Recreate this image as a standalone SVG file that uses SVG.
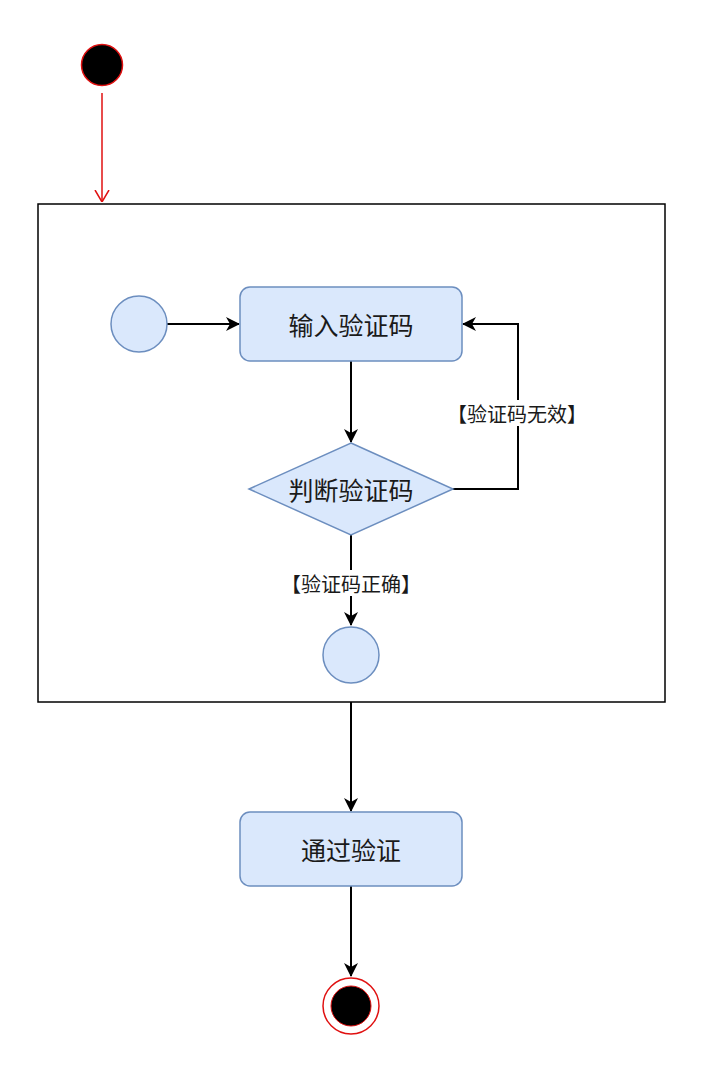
<svg xmlns="http://www.w3.org/2000/svg" width="703" height="1074" viewBox="0 0 703 1074">
<style>
.node{fill:#dae8fc;stroke:#6c8ebf;stroke-width:1.5}
.lbl{font-family:"Noto Sans CJK SC","Liberation Sans",sans-serif;font-size:25px;fill:#1a1a1a;text-anchor:middle;dominant-baseline:central}
.elbl{font-family:"Noto Sans CJK SC","Liberation Sans",sans-serif;font-size:20px;fill:#1a1a1a;text-anchor:middle;dominant-baseline:central}
.edge{fill:none;stroke:#000;stroke-width:2}
</style>
<defs>
<marker id="ah" viewBox="0 0 14 14" refX="13" refY="7" markerWidth="14" markerHeight="14" markerUnits="userSpaceOnUse" orient="auto">
<path d="M0,0 L14,7 L0,14 L4,7 Z" fill="#000"/>
</marker>
<marker id="open" viewBox="0 0 12 16" refX="12" refY="8" markerWidth="12" markerHeight="16" markerUnits="userSpaceOnUse" orient="auto">
<path d="M0,1 L12,8 L0,15" fill="none" stroke="#e01010" stroke-width="1.5"/>
</marker>
</defs>
<rect width="703" height="1074" fill="#fff"/>
<g id="start">
<circle cx="102" cy="65" r="20.5" fill="#000" stroke="#e01010" stroke-width="1.5"/>
</g>
<g id="container">
<rect x="38" y="204" width="627" height="498" fill="#fff" stroke="#000" stroke-width="1.5"/>
</g>
<g id="connectors">
<path class="edge" d="M102,93 L102,202" style="stroke:#e01010;stroke-width:1.5" marker-end="url(#open)"/>
<path class="edge" d="M167,324 L239,324" marker-end="url(#ah)"/>
<path class="edge" d="M351,361 L351,442" marker-end="url(#ah)"/>
<path class="edge" d="M453,489 L518,489 L518,324 L463,324" marker-end="url(#ah)"/>
<rect x="447" y="400" width="140" height="26" fill="#fff"/>
<text class="elbl" x="517" y="413">【验证码无效】</text>
<path class="edge" d="M351,535 L351,625" marker-end="url(#ah)"/>
<rect x="281" y="570" width="140" height="26" fill="#fff"/>
<text class="elbl" x="351" y="583">【验证码正确】</text>
<path class="edge" d="M351,702 L351,811" marker-end="url(#ah)"/>
<path class="edge" d="M351,886 L351,976" marker-end="url(#ah)"/>
</g>
<g id="inner-start">
<circle class="node" cx="139" cy="324" r="28"/>
</g>
<g id="input-code">
<rect class="node" x="240" y="287" width="222" height="74" rx="10"/>
<text class="lbl" x="351" y="324">输入验证码</text>
</g>
<g id="check-code">
<polygon class="node" points="351,443 453,489 351,535 249,489"/>
<text class="lbl" x="351" y="489">判断验证码</text>
</g>
<g id="inner-end">
<circle class="node" cx="351" cy="655" r="28"/>
</g>
<g id="pass">
<rect class="node" x="240" y="812" width="222" height="74" rx="10"/>
<text class="lbl" x="351" y="849">通过验证</text>
</g>
<g id="end">
<circle cx="351" cy="1006" r="28" fill="#fff" stroke="#e01010" stroke-width="1.5"/>
<circle cx="351" cy="1006" r="20" fill="#000" stroke="#e01010" stroke-width="1"/>
</g>
</svg>
